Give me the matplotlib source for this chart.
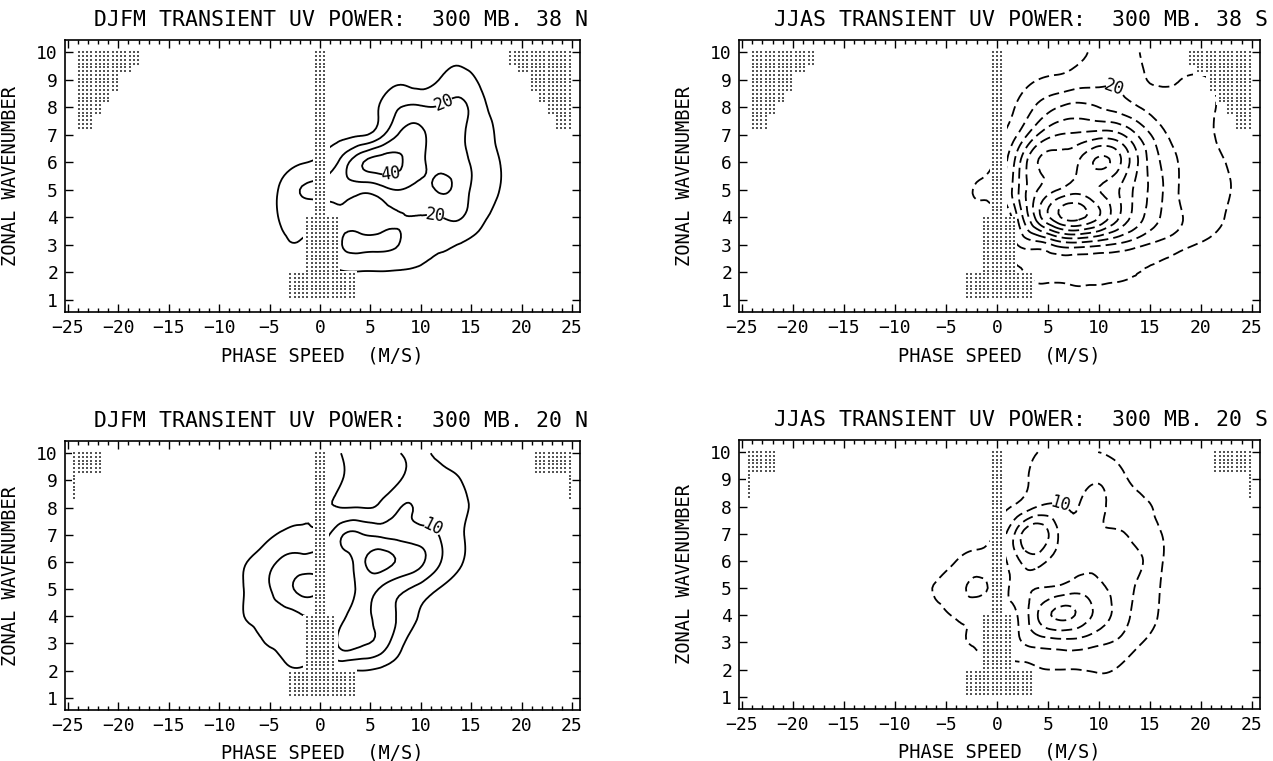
import numpy as np
import matplotlib
matplotlib.use("Agg")
import matplotlib.pyplot as plt
import matplotlib.tri as mtri
from matplotlib.patches import Rectangle

plt.rcParams['font.family'] = ['DejaVu Sans Mono', 'DejaVu Sans']

# phase speed columns (m/s) and zonal wavenumber rows of the power tables
speed = np.arange(-12, 25, 2)
wavenumber = np.arange(1, 11)

# DJFM 300 mb, 38N  (rows k = 1..10, columns c = -12..24)
power_djfm_38n = np.array([
    [0, 0, 0, 0, 0, 0, 0, 0, 0, 0, 0, 0, 0, 0, 0, 0, 0, 0, 0],
    [0, 0, 0, 0, 1, 2, 4, 9, 9.5, 9.5, 9, 8.5, 7, 5, 3, 1, 0, 0, 0],
    [0, 0, 0, 2, 7, 9, 8, 19, 22, 21.5, 19.5, 13, 11, 9.5, 7, 3, 1, 0, 0],
    [0, 0, 0, 3, 10.5, 14, 14, 18.5, 15, 16, 19.5, 19.5, 19.8, 20.5, 12, 7, 1, 0, 0],
    [0, 0, 0, 2, 11, 20, 22, 24, 23, 26, 30, 27, 31, 25, 15, 9.5, 2, 0, 0],
    [0, 0, 0, 0, 4, 9, 12, 22, 38, 44, 41, 32, 27, 23, 16, 9.5, 2, 0, 0],
    [0, 0, 0, 0, 0, 0, 4, 7, 9, 17, 32, 32, 25, 21, 15, 7, 1, 0, 0],
    [0, 0, 0, 0, 0, 0, 0, 1, 3, 11, 20, 21, 21, 22, 13, 5, 0, 0, 0],
    [0, 0, 0, 0, 0, 0, 0, 0, 0, 2, 8, 5, 11, 14, 8, 2, 0, 0, 0],
    [0, 0, 0, 0, 0, 0, 0, 0, 0, 0, 0, 0, 4, 7, 3, 0, 0, 0, 0],
])

# JJAS 300 mb, 38S
power_jjas_38s = np.array([
    [0, 0, 0, 0, 0, 0, 0, 2, 4, 5, 5, 5, 4, 3, 2, 1, 0, 0, 0],
    [0, 0, 0, 0, 0, 0, 0, 8, 12, 12, 12, 11.5, 11, 10, 9, 6, 3, 1, 0],
    [0, 0, 0, 0, 0, 0, 3, 20, 25, 33, 35, 32, 28, 22, 17, 13, 9, 5, 0],
    [0, 0, 0, 0, 0, 4, 6, 30, 65, 88, 93, 80, 60, 43, 30, 21, 15, 11, 3],
    [0, 0, 0, 0, 2, 11, 14, 38, 60, 70, 76, 70, 60, 45, 32, 19, 14, 13, 4],
    [0, 0, 0, 0, 1, 6, 12, 35, 60, 62, 70, 82, 72, 48, 30, 19, 14, 11, 4],
    [0, 0, 0, 0, 0, 2, 8, 20, 40, 50, 52, 55, 52, 38, 24, 15, 13, 8, 3],
    [0, 0, 0, 0, 0, 0, 5, 11, 22, 30, 33, 30, 26, 20, 14, 11, 13, 8, 3],
    [0, 0, 0, 0, 0, 0, 0, 5, 10, 12, 15, 17, 18, 12, 9, 10, 11, 7, 2],
    [0, 0, 0, 0, 0, 0, 0, 2, 5, 7, 8, 12, 11, 10, 6, 4, 3, 2, 0],
])

# DJFM 300 mb, 20N
power_djfm_20n = np.array([
    [0, 0, 0, 0, 0, 0, 0, 0, 0, 0, 0, 0, 0, 0, 0, 0, 0, 0, 0],
    [0, 0, 0, 0, 3, 4.5, 5, 5.5, 5, 4, 3, 1.5, 0, 0, 0, 0, 0, 0, 0],
    [0, 0, 0, 4, 6.5, 8, 8, 16, 16, 13, 6, 3, 0, 0, 0, 0, 0, 0, 0],
    [0, 0, 4, 7, 8, 9.5, 10, 13, 17, 13, 9, 4.5, 1.5, 0, 0, 0, 0, 0, 0],
    [0, 0, 4, 8, 12, 16, 15, 12, 16, 14.5, 11, 8, 4.5, 1, 0, 0, 0, 0, 0],
    [0, 0, 3.5, 7, 10.5, 12, 12, 12, 18, 22, 19, 16, 10, 5.5, 1, 0, 0, 0, 0],
    [0, 0, 0, 2.5, 5.5, 6.5, 7, 14, 15.5, 14, 13, 12, 9.5, 5.5, 2, 0, 0, 0, 0],
    [0, 0, 0, 0, 1, 2, 5, 5, 5, 6, 10, 9, 8, 6, 3, 0, 0, 0, 0],
    [0, 0, 0, 0, 0, 0, 6, 5.5, 3, 3.5, 5, 8, 7, 5, 2, 0, 0, 0, 0],
    [0, 0, 0, 0, 0, 0, 6, 5.2, 2, 2, 5, 6, 3, 2, 0, 0, 0, 0, 0],
])

# JJAS 300 mb, 20S
power_jjas_20s = np.array([
    [0, 0, 0, 0, 0, 0, 0, 0, 0, 0, 0, 0, 0, 0, 0, 0, 0, 0, 0],
    [0, 0, 0, 0, 0, 3, 4, 3, 4.5, 5, 5, 5.5, 4.5, 2, 0, 0, 0, 0, 0],
    [0, 0, 0, 0, 3.5, 5.5, 6, 9, 12, 13, 13, 11, 9, 5.5, 2, 0, 0, 0, 0],
    [0, 0, 0, 3, 5.5, 6, 7, 10, 20, 26, 24, 18, 13, 8, 4.5, 0, 0, 0, 0],
    [0, 0, 2, 5.5, 8, 11, 9, 12, 15, 16, 18, 16, 13, 9, 5, 0, 0, 0, 0],
    [0, 0, 0, 1, 5, 7, 8, 14, 17, 13, 14, 14, 13, 10.5, 6, 0, 0, 0, 0],
    [0, 0, 0, 0, 1, 3, 6, 17, 24, 15, 12, 11, 10.5, 8, 5.3, 1, 0, 0, 0],
    [0, 0, 0, 0, 0, 1, 3, 6, 10, 10.5, 10, 11, 8, 6.5, 3.5, 0, 0, 0, 0],
    [0, 0, 0, 0, 0, 0, 1, 3, 6.5, 8, 8.5, 9.5, 6.5, 3.5, 1, 0, 0, 0, 0],
    [0, 0, 0, 0, 0, 0, 2, 3, 5, 6, 5.5, 5, 3, 1.5, 0, 0, 0, 0, 0],
])

levels_38 = [10, 20, 30, 40, 50, 60, 70, 80, 90]
levels_20 = [5, 10, 15, 20, 25, 30]

# unresolved (stippled) regions: (k_lo, k_hi, c_lo, c_hi)
stipple_38 = [
    (9.55, 10.0, -24.2, -17.8), (9.2, 9.55, -24.2, -18.6), (8.5, 9.2, -24.2, -20.0),
    (8.15, 8.5, -24.2, -20.8), (7.75, 8.15, -24.2, -21.6), (7.15, 7.75, -24.2, -22.5),
    (9.55, 10.0, 18.6, 24.9), (9.2, 9.55, 19.4, 24.9), (8.5, 9.2, 20.7, 24.9),
    (8.15, 8.5, 21.6, 24.9), (7.75, 8.15, 22.4, 24.9), (7.15, 7.75, 23.2, 24.9),
    (4.0, 10.0, -0.5, 0.8), (2.0, 4.0, -1.5, 1.8), (1.0, 2.0, -3.2, 3.5),
]
stipple_20 = [
    (9.2, 10.0, -24.5, -21.5), (8.3, 9.2, -24.5, -24.2),
    (9.2, 10.0, 21.3, 24.9), (8.3, 9.2, 24.5, 24.9),
    (4.0, 10.0, -0.5, 0.7), (2.0, 4.0, -1.5, 1.6), (1.0, 2.0, -3.2, 3.5),
]

titles = [
    "DJFM TRANSIENT UV POWER:  300 MB. 38 N",
    "JJAS TRANSIENT UV POWER:  300 MB. 38 S",
    "DJFM TRANSIENT UV POWER:  300 MB. 20 N",
    "JJAS TRANSIENT UV POWER:  300 MB. 20 S",
]
label_spots = [
    [(12.1, 8.4), (7.0, 5.75), (11.4, 3.8)],
    [(11.8, 9.0)],
    [(11.2, 7.3)],
    [(6.2, 8.05)],
]


def smooth_field(values):
    # cubic refinement of the speed/wavenumber table for smooth contours
    cc, kk = np.meshgrid(speed, wavenumber)
    nk, nc = values.shape
    tris = []
    for j in range(nk - 1):
        for i in range(nc - 1):
            p = j * nc + i
            tris.append([p, p + 1, p + nc + 1])
            tris.append([p, p + nc + 1, p + nc])
    tri = mtri.Triangulation(cc.ravel() / 2.0, kk.ravel(), np.array(tris))
    fine, z = mtri.UniformTriRefiner(tri).refine_field(values.ravel().astype(float), subdiv=3)
    return mtri.Triangulation(fine.x * 2.0, fine.y, fine.triangles), z


def stipple(ax, blocks):
    cg, kg = np.meshgrid(np.arange(-60, 61) * 0.42, 10 - np.arange(0, 75) * 0.137)
    cg, kg = cg.ravel(), kg.ravel()
    keep = np.zeros(cg.shape, bool)
    for k0, k1, c0, c1 in blocks:
        ax.add_patch(Rectangle((c0 - 0.15, k0 - 0.05), c1 - c0 + 0.3, k1 - k0 + 0.1,
                               fc='white', ec='none', zorder=3))
        keep |= (cg >= c0) & (cg <= c1) & (kg >= k0 - 1e-6) & (kg <= k1 + 1e-6)
    ax.scatter(cg[keep], kg[keep], s=0.55, marker='s', c='#555555', linewidths=0, zorder=4)


fig = plt.figure(figsize=(12.73, 7.61), dpi=100)
W, H = 1273.0, 761.0
boxes = [(65, 40, 580, 312), (739, 40, 1260, 312), (65, 441, 580, 710), (739, 440, 1260, 709)]
fields = [power_djfm_38n, power_jjas_38s, power_djfm_20n, power_jjas_20s]
levels = [levels_38, levels_38, levels_20, levels_20]
styles = ['solid', (0, (6, 2.8)), 'solid', (0, (6, 2.8))]
stipples = [stipple_38, stipple_38, stipple_20, stipple_20]

for i in range(4):
    x0, y0, x1, y1 = boxes[i]
    ax = fig.add_axes([x0 / W, 1 - y1 / H, (x1 - x0) / W, (y1 - y0) / H])
    tri, z = smooth_field(fields[i])
    cs = ax.tricontour(tri, z, levels=levels[i], colors='k', linewidths=1.3)
    cs.set_linestyle(styles[i])
    ax.clabel(cs, manual=label_spots[i], fmt='%d', fontsize=12, inline=True, inline_spacing=2)
    stipple(ax, stipples[i])

    ax.set_xlim(-25.3, 25.8)
    ax.set_ylim(0.55, 10.45)
    ax.set_xticks(np.arange(-25, 26, 5))
    ax.set_xticks(np.arange(-25, 26, 1), minor=True)
    ax.set_yticks(wavenumber)
    ax.tick_params(which='both', direction='in', top=True, right=True, labelsize=13, width=1.0)
    ax.tick_params(which='major', length=6, pad=5)
    ax.tick_params(which='minor', length=3)
    for sp in ax.spines.values():
        sp.set_linewidth(1.2)
    ax.set_xlabel("PHASE SPEED  (M/S)", fontsize=13.5)
    ax.set_ylabel("ZONAL WAVENUMBER", fontsize=13.5)
    ax.xaxis.set_label_coords(0.5, -0.125)
    ax.yaxis.set_label_coords(-0.087, 0.5)
    ax.text(1.015, 1.075, titles[i], transform=ax.transAxes, ha='right', va='center', fontsize=15.5)

fig.savefig("out.png", dpi=100)
